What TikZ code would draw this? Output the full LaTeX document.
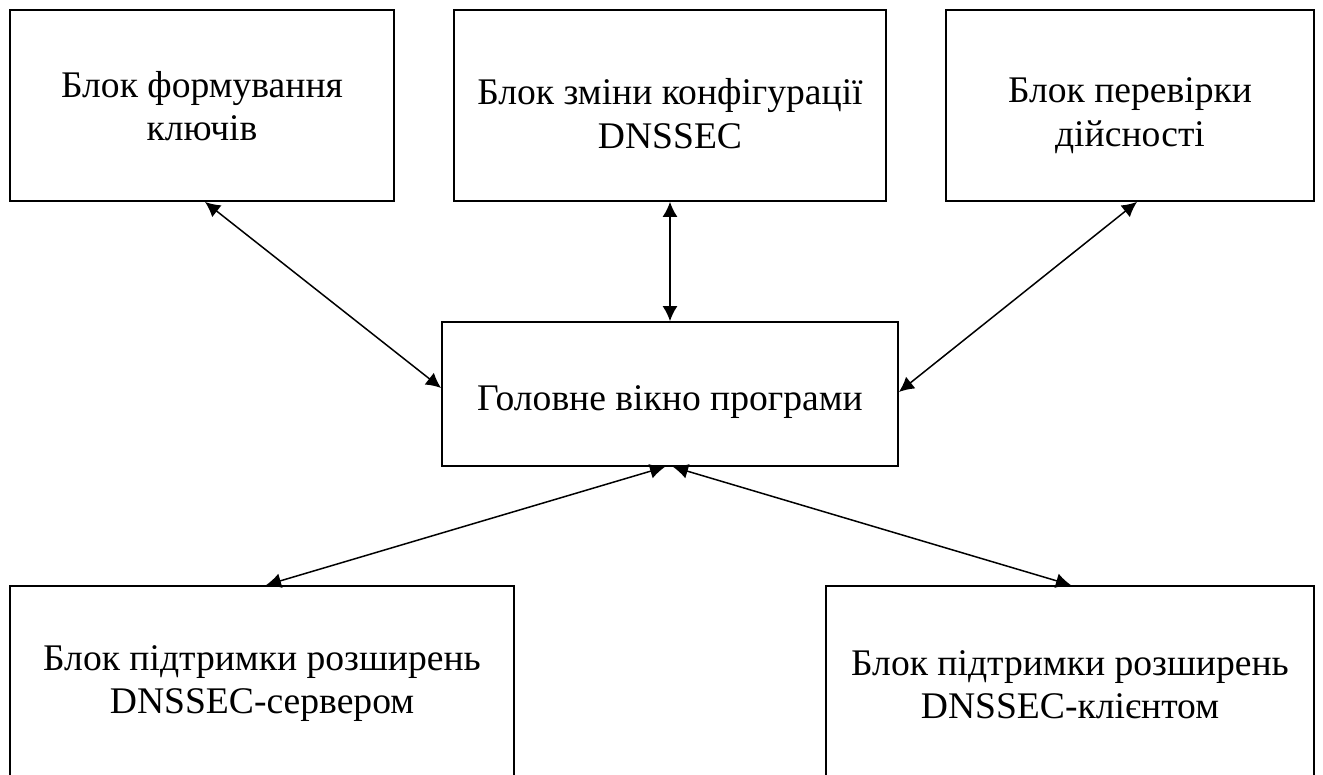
\documentclass[tikz,border=0pt]{standalone}
\usepackage{fontspec}
\setmainfont{Liberation Serif}
\usetikzlibrary{arrows.meta}
\newcommand\tophgt[1]{\rule{0pt}{#1}}
\newcommand\botdep[1]{\rule[-#1]{0pt}{#1}}
\begin{document}
\begin{tikzpicture}[x=0.5pt,y=-0.5pt,
  blk/.style={draw,line width=0.9pt,rectangle,align=center,inner sep=0pt,
    font=\fontsize{18.8}{21.8}\selectfont},
  link/.style={line width=0.75pt,{Latex[length=7.5pt,width=7.5pt]}-{Latex[length=7.5pt,width=7.5pt]}}]
\useasboundingbox (0,0) rectangle (1323,775);
\clip (0,0) rectangle (1323,775);
\node[blk,minimum width=192pt,minimum height=95.5pt] (A) at (202,105.5)
  {\tophgt{16pt}Блок формування\\ключів\botdep{2.5pt}};
\node[blk,minimum width=216pt,minimum height=95.5pt] (B) at (670,105.5)
  {\tophgt{23pt}Блок зміни конфігурації\\DNSSEC\botdep{2pt}};
\node[blk,minimum width=184pt,minimum height=95.5pt] (C) at (1130,105.5)
  {\tophgt{23pt}Блок перевірки\\дійсності\botdep{4pt}};
\node[blk,minimum width=228pt,minimum height=72pt] (M) at (670,394)
  {\tophgt{21pt}Головне вікно програми\botdep{5pt}};
\node[blk,minimum width=252pt,minimum height=99pt] (D) at (262,685)
  {\tophgt{14pt}Блок підтримки розширень\\DNSSEC-сервером\botdep{7pt}};
\node[blk,minimum width=244pt,minimum height=99pt] (E) at (1070,685)
  {\tophgt{16pt}Блок підтримки розширень\\DNSSEC-клієнтом\botdep{4pt}};
\draw[link] ([xshift=1.5pt]A.south) -- ([yshift=3pt]M.west);
\draw[link] (B.south) -- (M.north);
\draw[link] ([xshift=3.5pt]C.south) -- ([yshift=1pt]M.east);
\draw[link] ([xshift=-2.5pt]M.south) -- ([xshift=2pt]D.north);
\draw[link] ([xshift=1.5pt]M.south) -- ([xshift=0.5pt]E.north);
\end{tikzpicture}
\end{document}
